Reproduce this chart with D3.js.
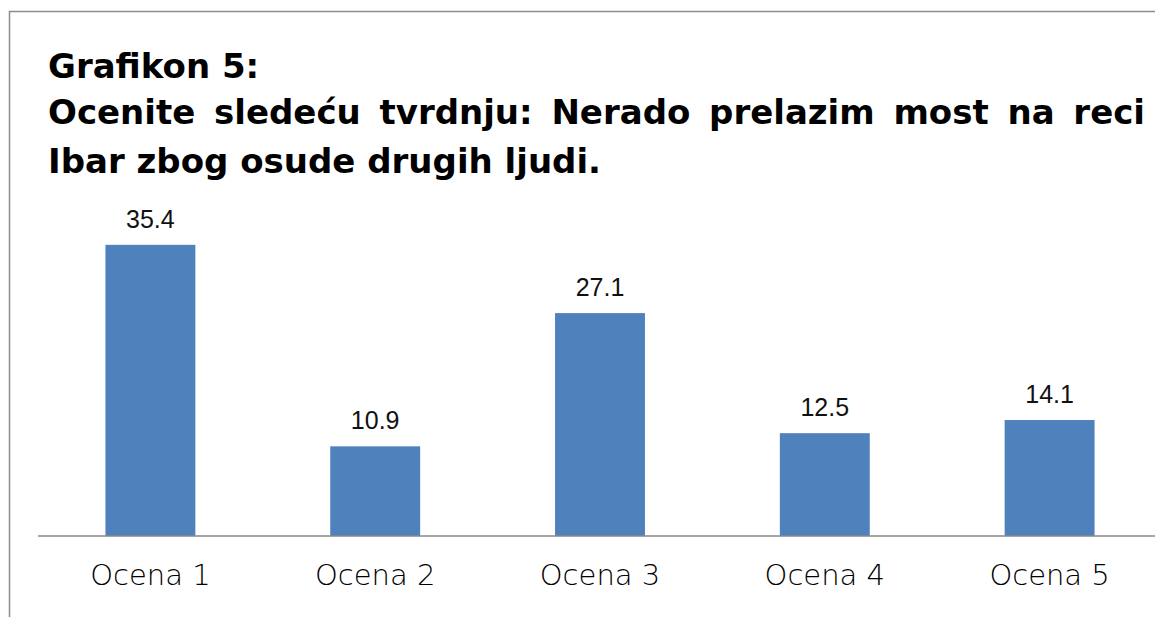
<!DOCTYPE html>
<html>
<head>
<meta charset="utf-8">
<script src="https://cdn.jsdelivr.net/npm/d3@7"></script>
<style>
  html, body { margin: 0; padding: 0; background: #fff; }
  svg { display: block; }
</style>
</head>
<body>
<div id="chart"></div>
<script>
const categories = ["Ocena 1", "Ocena 2", "Ocena 3", "Ocena 4", "Ocena 5"];
const values = [35.4, 10.9, 27.1, 12.5, 14.1];
const titleLines = [
  "Grafikon 5:",
  "Ocenite sledeću tvrdnju: Nerado prelazim most na reci",
  "Ibar zbog osude drugih ljudi."
];

const W = 1155, H = 617;
const axisY = 536;

const svg = d3
  .select("#chart")
  .append("svg")
  .attr("width", W)
  .attr("height", H);

// frame (top and left edge of the box)
svg
  .append("path")
  .attr("d", `M9.5,${H} V11.5 H${W}`)
  .attr("fill", "none")
  .attr("stroke", "#8c8c8c")
  .attr("stroke-width", 1.5);

// title
const titleFont = "'DejaVu Sans', 'Liberation Sans', sans-serif";
const titleX = 48, titleRight = 1145;
const titleY = [78, 124, 173];

titleLines.forEach((line, i) => {
  const g = svg.append("g");
  if (i === 1) {
    // justified line: spread words between left and right margin
    const words = line.split(" ");
    const nodes = words.map((w) =>
      g
        .append("text")
        .attr("y", titleY[i])
        .style("font-family", titleFont)
        .style("font-weight", "bold")
        .style("font-size", "34px")
        .style("fill", "#000")
        .text(w)
    );
    const widths = nodes.map((n) => n.node().getComputedTextLength());
    const gap = (titleRight - titleX - d3.sum(widths)) / (words.length - 1);
    let x = titleX;
    nodes.forEach((n, k) => {
      n.attr("x", x);
      x += widths[k] + gap;
    });
  } else {
    g.append("text")
      .attr("x", titleX)
      .attr("y", titleY[i])
      .style("font-family", titleFont)
      .style("font-weight", "bold")
      .style("font-size", "34px")
      .style("fill", "#000")
      .text(line);
  }
});

// scales
const xScale = d3
  .scaleBand()
  .domain(categories)
  .range([38, 1162])
  .paddingInner(0.6)
  .paddingOuter(0.3);

const yScale = d3.scaleLinear().domain([0, 40]).range([axisY, axisY - 329]);

// bars
svg
  .selectAll(".bar")
  .data(values)
  .enter()
  .append("rect")
  .attr("class", "bar")
  .attr("x", (d, i) => xScale(categories[i]))
  .attr("y", (d) => yScale(d))
  .attr("width", xScale.bandwidth())
  .attr("height", (d) => yScale(0) - yScale(d))
  .attr("fill", "#4f81bd");

// value labels
svg
  .selectAll(".val")
  .data(values)
  .enter()
  .append("text")
  .attr("class", "val")
  .attr("x", (d, i) => xScale(categories[i]) + xScale.bandwidth() / 2)
  .attr("y", (d) => yScale(d) - 17)
  .attr("text-anchor", "middle")
  .style("font-family", "'Liberation Sans', Arial, sans-serif")
  .style("font-size", "25px")
  .style("fill", "#111")
  .text((d) => d.toFixed(1));

// x axis
const xAxis = svg
  .append("g")
  .attr("transform", `translate(0,${axisY})`)
  .call(d3.axisBottom(xScale).tickSize(0).tickPadding(28));

xAxis.select(".domain").remove();
svg
  .append("line")
  .attr("x1", 38)
  .attr("x2", W)
  .attr("y1", axisY)
  .attr("y2", axisY)
  .attr("stroke", "#888")
  .attr("stroke-width", 1.5);

xAxis
  .selectAll("text")
  .style("font-family", "'DejaVu Sans', sans-serif")
  .style("font-weight", "300")
  .style("font-size", "29px")
  .style("fill", "#000");
</script>
</body>
</html>
